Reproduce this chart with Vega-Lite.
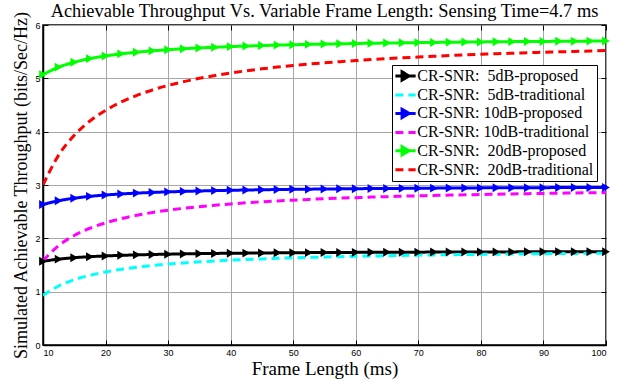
{
  "$schema": "https://vega.github.io/schema/vega-lite/v6.json",
  "autosize": "none",
  "width": 563,
  "height": 320,
  "padding": {"left": 43, "top": 25, "right": 27, "bottom": 36},
  "background": "white",
  "title": {"text": "Achievable Throughput Vs. Variable Frame Length: Sensing Time=4.7 ms", "font": "Liberation Serif", "fontSize": 18.4, "fontWeight": "normal", "color": "black", "anchor": "middle", "offset": -10},
  "config": {
    "view": {"stroke": "black", "strokeWidth": 1.5},
    "axis": {"domainColor": "black", "domainWidth": 1.5, "tickColor": "black", "tickSize": -5, "gridColor": "#a6a6a6", "gridOpacity": 1, "gridWidth": 1, "labelFont": "Liberation Sans", "labelFontSize": 9, "labelColor": "black", "titleFont": "Liberation Serif", "titleFontWeight": "normal", "titleColor": "black", "titleFontSize": 18}
  },
  "data": {"values": [
    {"x":10,"s":"5dB-proposed","y":1.57},{"x":12.5,"s":"5dB-proposed","y":1.61},{"x":15,"s":"5dB-proposed","y":1.637},{"x":17.5,"s":"5dB-proposed","y":1.656},{"x":20,"s":"5dB-proposed","y":1.67},{"x":22.5,"s":"5dB-proposed","y":1.681},{"x":25,"s":"5dB-proposed","y":1.69},{"x":27.5,"s":"5dB-proposed","y":1.697},{"x":30,"s":"5dB-proposed","y":1.703},{"x":32.5,"s":"5dB-proposed","y":1.708},{"x":35,"s":"5dB-proposed","y":1.713},{"x":37.5,"s":"5dB-proposed","y":1.717},{"x":40,"s":"5dB-proposed","y":1.72},{"x":42.5,"s":"5dB-proposed","y":1.723},{"x":45,"s":"5dB-proposed","y":1.726},{"x":47.5,"s":"5dB-proposed","y":1.728},{"x":50,"s":"5dB-proposed","y":1.73},{"x":52.5,"s":"5dB-proposed","y":1.732},{"x":55,"s":"5dB-proposed","y":1.734},{"x":57.5,"s":"5dB-proposed","y":1.735},{"x":60,"s":"5dB-proposed","y":1.737},{"x":62.5,"s":"5dB-proposed","y":1.738},{"x":65,"s":"5dB-proposed","y":1.739},{"x":67.5,"s":"5dB-proposed","y":1.74},{"x":70,"s":"5dB-proposed","y":1.741},{"x":72.5,"s":"5dB-proposed","y":1.742},{"x":75,"s":"5dB-proposed","y":1.743},{"x":77.5,"s":"5dB-proposed","y":1.744},{"x":80,"s":"5dB-proposed","y":1.745},{"x":82.5,"s":"5dB-proposed","y":1.746},{"x":85,"s":"5dB-proposed","y":1.746},{"x":87.5,"s":"5dB-proposed","y":1.747},{"x":90,"s":"5dB-proposed","y":1.748},{"x":92.5,"s":"5dB-proposed","y":1.748},{"x":95,"s":"5dB-proposed","y":1.749},{"x":97.5,"s":"5dB-proposed","y":1.749},{"x":100,"s":"5dB-proposed","y":1.75},
    {"x":10,"s":"5dB-traditional","y":0.93},{"x":12.5,"s":"5dB-traditional","y":1.106},{"x":15,"s":"5dB-traditional","y":1.223},{"x":17.5,"s":"5dB-traditional","y":1.307},{"x":20,"s":"5dB-traditional","y":1.37},{"x":22.5,"s":"5dB-traditional","y":1.419},{"x":25,"s":"5dB-traditional","y":1.458},{"x":27.5,"s":"5dB-traditional","y":1.49},{"x":30,"s":"5dB-traditional","y":1.517},{"x":32.5,"s":"5dB-traditional","y":1.539},{"x":35,"s":"5dB-traditional","y":1.559},{"x":37.5,"s":"5dB-traditional","y":1.575},{"x":40,"s":"5dB-traditional","y":1.59},{"x":42.5,"s":"5dB-traditional","y":1.603},{"x":45,"s":"5dB-traditional","y":1.614},{"x":47.5,"s":"5dB-traditional","y":1.625},{"x":50,"s":"5dB-traditional","y":1.634},{"x":52.5,"s":"5dB-traditional","y":1.642},{"x":55,"s":"5dB-traditional","y":1.65},{"x":57.5,"s":"5dB-traditional","y":1.657},{"x":60,"s":"5dB-traditional","y":1.663},{"x":62.5,"s":"5dB-traditional","y":1.669},{"x":65,"s":"5dB-traditional","y":1.675},{"x":67.5,"s":"5dB-traditional","y":1.68},{"x":70,"s":"5dB-traditional","y":1.684},{"x":72.5,"s":"5dB-traditional","y":1.689},{"x":75,"s":"5dB-traditional","y":1.693},{"x":77.5,"s":"5dB-traditional","y":1.696},{"x":80,"s":"5dB-traditional","y":1.7},{"x":82.5,"s":"5dB-traditional","y":1.703},{"x":85,"s":"5dB-traditional","y":1.706},{"x":87.5,"s":"5dB-traditional","y":1.709},{"x":90,"s":"5dB-traditional","y":1.712},{"x":92.5,"s":"5dB-traditional","y":1.715},{"x":95,"s":"5dB-traditional","y":1.717},{"x":97.5,"s":"5dB-traditional","y":1.72},{"x":100,"s":"5dB-traditional","y":1.722},
    {"x":10,"s":"10dB-proposed","y":2.634},{"x":12.5,"s":"10dB-proposed","y":2.705},{"x":15,"s":"10dB-proposed","y":2.753},{"x":17.5,"s":"10dB-proposed","y":2.787},{"x":20,"s":"10dB-proposed","y":2.812},{"x":22.5,"s":"10dB-proposed","y":2.832},{"x":25,"s":"10dB-proposed","y":2.848},{"x":27.5,"s":"10dB-proposed","y":2.861},{"x":30,"s":"10dB-proposed","y":2.871},{"x":32.5,"s":"10dB-proposed","y":2.88},{"x":35,"s":"10dB-proposed","y":2.888},{"x":37.5,"s":"10dB-proposed","y":2.895},{"x":40,"s":"10dB-proposed","y":2.901},{"x":42.5,"s":"10dB-proposed","y":2.906},{"x":45,"s":"10dB-proposed","y":2.911},{"x":47.5,"s":"10dB-proposed","y":2.915},{"x":50,"s":"10dB-proposed","y":2.919},{"x":52.5,"s":"10dB-proposed","y":2.922},{"x":55,"s":"10dB-proposed","y":2.925},{"x":57.5,"s":"10dB-proposed","y":2.928},{"x":60,"s":"10dB-proposed","y":2.931},{"x":62.5,"s":"10dB-proposed","y":2.933},{"x":65,"s":"10dB-proposed","y":2.935},{"x":67.5,"s":"10dB-proposed","y":2.937},{"x":70,"s":"10dB-proposed","y":2.939},{"x":72.5,"s":"10dB-proposed","y":2.941},{"x":75,"s":"10dB-proposed","y":2.943},{"x":77.5,"s":"10dB-proposed","y":2.944},{"x":80,"s":"10dB-proposed","y":2.946},{"x":82.5,"s":"10dB-proposed","y":2.947},{"x":85,"s":"10dB-proposed","y":2.948},{"x":87.5,"s":"10dB-proposed","y":2.949},{"x":90,"s":"10dB-proposed","y":2.95},{"x":92.5,"s":"10dB-proposed","y":2.952},{"x":95,"s":"10dB-proposed","y":2.953},{"x":97.5,"s":"10dB-proposed","y":2.954},{"x":100,"s":"10dB-proposed","y":2.954},
    {"x":10,"s":"10dB-traditional","y":1.58},{"x":12.5,"s":"10dB-traditional","y":1.864},{"x":15,"s":"10dB-traditional","y":2.053},{"x":17.5,"s":"10dB-traditional","y":2.189},{"x":20,"s":"10dB-traditional","y":2.29},{"x":22.5,"s":"10dB-traditional","y":2.369},{"x":25,"s":"10dB-traditional","y":2.432},{"x":27.5,"s":"10dB-traditional","y":2.484},{"x":30,"s":"10dB-traditional","y":2.527},{"x":32.5,"s":"10dB-traditional","y":2.563},{"x":35,"s":"10dB-traditional","y":2.594},{"x":37.5,"s":"10dB-traditional","y":2.621},{"x":40,"s":"10dB-traditional","y":2.645},{"x":42.5,"s":"10dB-traditional","y":2.666},{"x":45,"s":"10dB-traditional","y":2.684},{"x":47.5,"s":"10dB-traditional","y":2.701},{"x":50,"s":"10dB-traditional","y":2.716},{"x":52.5,"s":"10dB-traditional","y":2.73},{"x":55,"s":"10dB-traditional","y":2.742},{"x":57.5,"s":"10dB-traditional","y":2.753},{"x":60,"s":"10dB-traditional","y":2.763},{"x":62.5,"s":"10dB-traditional","y":2.773},{"x":65,"s":"10dB-traditional","y":2.782},{"x":67.5,"s":"10dB-traditional","y":2.79},{"x":70,"s":"10dB-traditional","y":2.797},{"x":72.5,"s":"10dB-traditional","y":2.804},{"x":75,"s":"10dB-traditional","y":2.811},{"x":77.5,"s":"10dB-traditional","y":2.817},{"x":80,"s":"10dB-traditional","y":2.822},{"x":82.5,"s":"10dB-traditional","y":2.828},{"x":85,"s":"10dB-traditional","y":2.833},{"x":87.5,"s":"10dB-traditional","y":2.838},{"x":90,"s":"10dB-traditional","y":2.842},{"x":92.5,"s":"10dB-traditional","y":2.846},{"x":95,"s":"10dB-traditional","y":2.851},{"x":97.5,"s":"10dB-traditional","y":2.854},{"x":100,"s":"10dB-traditional","y":2.858},
    {"x":10,"s":"20dB-proposed","y":5.07},{"x":12.5,"s":"20dB-proposed","y":5.21},{"x":15,"s":"20dB-proposed","y":5.303},{"x":17.5,"s":"20dB-proposed","y":5.37},{"x":20,"s":"20dB-proposed","y":5.42},{"x":22.5,"s":"20dB-proposed","y":5.459},{"x":25,"s":"20dB-proposed","y":5.49},{"x":27.5,"s":"20dB-proposed","y":5.515},{"x":30,"s":"20dB-proposed","y":5.537},{"x":32.5,"s":"20dB-proposed","y":5.555},{"x":35,"s":"20dB-proposed","y":5.57},{"x":37.5,"s":"20dB-proposed","y":5.583},{"x":40,"s":"20dB-proposed","y":5.595},{"x":42.5,"s":"20dB-proposed","y":5.605},{"x":45,"s":"20dB-proposed","y":5.614},{"x":47.5,"s":"20dB-proposed","y":5.623},{"x":50,"s":"20dB-proposed","y":5.63},{"x":52.5,"s":"20dB-proposed","y":5.637},{"x":55,"s":"20dB-proposed","y":5.643},{"x":57.5,"s":"20dB-proposed","y":5.648},{"x":60,"s":"20dB-proposed","y":5.653},{"x":62.5,"s":"20dB-proposed","y":5.658},{"x":65,"s":"20dB-proposed","y":5.662},{"x":67.5,"s":"20dB-proposed","y":5.666},{"x":70,"s":"20dB-proposed","y":5.67},{"x":72.5,"s":"20dB-proposed","y":5.673},{"x":75,"s":"20dB-proposed","y":5.677},{"x":77.5,"s":"20dB-proposed","y":5.68},{"x":80,"s":"20dB-proposed","y":5.683},{"x":82.5,"s":"20dB-proposed","y":5.685},{"x":85,"s":"20dB-proposed","y":5.688},{"x":87.5,"s":"20dB-proposed","y":5.69},{"x":90,"s":"20dB-proposed","y":5.692},{"x":92.5,"s":"20dB-proposed","y":5.694},{"x":95,"s":"20dB-proposed","y":5.696},{"x":97.5,"s":"20dB-proposed","y":5.698},{"x":100,"s":"20dB-proposed","y":5.7},
    {"x":10,"s":"20dB-traditional","y":3.0},{"x":12.5,"s":"20dB-traditional","y":3.56},{"x":15,"s":"20dB-traditional","y":3.933},{"x":17.5,"s":"20dB-traditional","y":4.2},{"x":20,"s":"20dB-traditional","y":4.4},{"x":22.5,"s":"20dB-traditional","y":4.556},{"x":25,"s":"20dB-traditional","y":4.68},{"x":27.5,"s":"20dB-traditional","y":4.782},{"x":30,"s":"20dB-traditional","y":4.867},{"x":32.5,"s":"20dB-traditional","y":4.938},{"x":35,"s":"20dB-traditional","y":5.0},{"x":37.5,"s":"20dB-traditional","y":5.053},{"x":40,"s":"20dB-traditional","y":5.1},{"x":42.5,"s":"20dB-traditional","y":5.141},{"x":45,"s":"20dB-traditional","y":5.178},{"x":47.5,"s":"20dB-traditional","y":5.211},{"x":50,"s":"20dB-traditional","y":5.24},{"x":52.5,"s":"20dB-traditional","y":5.267},{"x":55,"s":"20dB-traditional","y":5.291},{"x":57.5,"s":"20dB-traditional","y":5.313},{"x":60,"s":"20dB-traditional","y":5.333},{"x":62.5,"s":"20dB-traditional","y":5.352},{"x":65,"s":"20dB-traditional","y":5.369},{"x":67.5,"s":"20dB-traditional","y":5.385},{"x":70,"s":"20dB-traditional","y":5.4},{"x":72.5,"s":"20dB-traditional","y":5.414},{"x":75,"s":"20dB-traditional","y":5.427},{"x":77.5,"s":"20dB-traditional","y":5.439},{"x":80,"s":"20dB-traditional","y":5.45},{"x":82.5,"s":"20dB-traditional","y":5.461},{"x":85,"s":"20dB-traditional","y":5.471},{"x":87.5,"s":"20dB-traditional","y":5.48},{"x":90,"s":"20dB-traditional","y":5.489},{"x":92.5,"s":"20dB-traditional","y":5.497},{"x":95,"s":"20dB-traditional","y":5.505},{"x":97.5,"s":"20dB-traditional","y":5.513},{"x":100,"s":"20dB-traditional","y":5.52}
  ]},
  "resolve": {"axis": {"x": "independent", "y": "independent"}},
  "layer": [
    {
      "mark": {"type": "line", "strokeWidth": 3, "interpolate": "monotone", "clip": true},
      "encoding": {
        "x": {"field": "x", "type": "quantitative", "scale": {"domain": [10, 100], "nice": false}, "axis": {"values": [10,20,30,40,50,60,70,80,90,100], "title": "Frame Length (ms)", "labelPadding": 8, "titlePadding": 2, "titleFontSize": 19}},
        "y": {"field": "y", "type": "quantitative", "scale": {"domain": [0, 6], "nice": false}, "axis": {"values": [0,1,2,3,4,5,6], "title": "Simulated Achievable Throughput (bits/Sec/Hz)", "labelPadding": 8, "titlePadding": 4}},
        "color": {"field": "s", "type": "nominal",
          "scale": {"domain": ["5dB-proposed","5dB-traditional","10dB-proposed","10dB-traditional","20dB-proposed","20dB-traditional"], "range": ["#000000","#00ffff","#0000ff","#ff00ff","#00ff00","#ff0000"]},
          "legend": {"title": null, "orient": "none", "legendX": 349, "legendY": 40, "direction": "vertical",
            "labelExpr": "(indexof(datum.label,'10dB')==0 ? 'CR-SNR: ' : 'CR-SNR:\u00a0 ') + datum.label",
            "labelFont": "Liberation Serif", "labelFontSize": 16, "labelColor": "black", "labelOffset": 6.3, "labelLimit": 300,
            "symbolSize": 160, "symbolStrokeWidth": 3, "rowPadding": -0.6, "padding": 3,
            "strokeColor": "black", "fillColor": "white",
            "encode": {"symbols": {"update": {
              "shape": {"signal": "indexof(datum.value,'proposed')>=0 ? 'M-1.2,0H2.0M-0.15,-0.65L0.95,0L-0.15,0.65Z' : 'M-1.2,0H2.0'"},
              "fill": {"signal": "indexof(datum.value,'proposed')>=0 ? scale('color', datum.value) : 'transparent'"},
              "fillOpacity": {"value": 1}
            }}}
          }
        },
        "strokeDash": {"field": "s", "type": "nominal",
          "scale": {"domain": ["5dB-proposed","5dB-traditional","10dB-proposed","10dB-traditional","20dB-proposed","20dB-traditional"], "range": [[1,0],[8,5],[1,0],[8,5],[1,0],[8,5]]},
          "legend": {"title": null, "orient": "none", "legendX": 349, "legendY": 40}
        }
      }
    },
    {
      "transform": [{"filter": "indexof(datum.s,'proposed')>=0"}],
      "mark": {"type": "point", "shape": "triangle-right", "filled": true, "size": 80, "opacity": 1},
      "encoding": {
        "x": {"field": "x", "type": "quantitative", "axis": {"orient": "top", "values": [10,20,30,40,50,60,70,80,90,100], "labels": false, "title": null, "grid": false, "domain": false}},
        "y": {"field": "y", "type": "quantitative", "axis": {"orient": "right", "values": [0,1,2,3,4,5,6], "labels": false, "title": null, "grid": false, "domain": false}},
        "color": {"field": "s", "type": "nominal", "legend": null}
      }
    }
  ]
}
